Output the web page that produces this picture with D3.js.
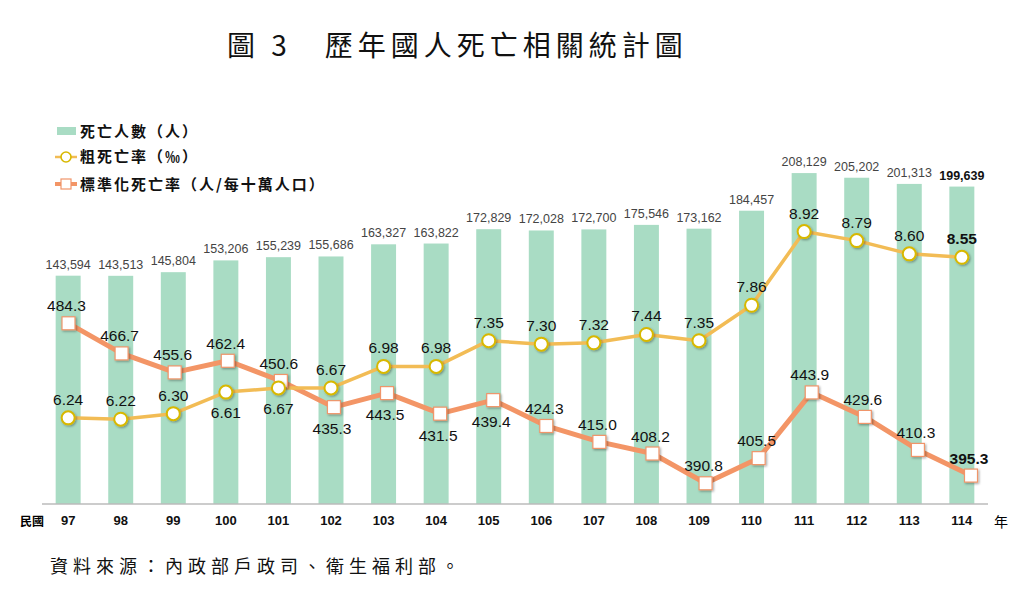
<!DOCTYPE html>
<html>
<head>
<meta charset="utf-8">
<script src="https://cdn.jsdelivr.net/npm/d3@7"></script>
<style>
  body { margin: 0; background: #fff; }
  svg { display: block; }
</style>
</head>
<body>
<svg id="chart" width="1024" height="591"></svg>
<script>
// data
const years = ["97", "98", "99", "100", "101", "102", "103", "104", "105",
  "106", "107", "108", "109", "110", "111", "112", "113", "114"];
const deaths = [143594, 143513, 145804, 153206, 155239, 155686, 163327, 163822,
  172829, 172028, 172700, 175546, 173162, 184457, 208129, 205202, 201313, 199639];
const crudeRate = [6.24, 6.22, 6.30, 6.61, 6.67, 6.67, 6.98, 6.98, 7.35, 7.30,
  7.32, 7.44, 7.35, 7.86, 8.92, 8.79, 8.60, 8.55];
const stdRate = [484.3, 466.7, 455.6, 462.4, 450.6, 435.3, 443.5, 431.5, 439.4,
  424.3, 415.0, 408.2, 390.8, 405.5, 443.9, 429.6, 410.3, 395.3];
// which labels sit under their marker
const crudeBelow = ["100", "101"];
const stdBelow = ["102", "103", "104", "105"];

const svg = d3.select("#chart");
const baseY = 504, topY = 106.5;
const sans = "Arial, 'Liberation Sans', sans-serif";
const cjk = "'Noto Sans CJK TC', sans-serif";

const defs = svg.append("defs");
const shadow = defs.append("filter").attr("id", "shadow")
  .attr("x", "-50%").attr("y", "-50%").attr("width", "200%").attr("height", "200%");
shadow.append("feDropShadow").attr("dx", 1.2).attr("dy", 1.2)
  .attr("stdDeviation", 1).attr("flood-color", "#000").attr("flood-opacity", 0.35);

// scales
const x = d3.scaleBand().domain(years).range([42, 988]).paddingInner(0.525).paddingOuter(0.26);
const xStd = d3.scalePoint().domain(years).range([68.5, 971]);
const yBar = d3.scaleLinear().domain([0, 250000]).range([baseY, topY]);
const yCrude = d3.scaleLinear().domain([5, 10.72]).range([baseY, topY]);
const yStd = d3.scaleLinear().domain([378.7, 611]).range([baseY, topY]);
const cx = (d) => x(d) + x.bandwidth() / 2;

// title
svg.append("text")
  .attr("x", 227).attr("y", 56)
  .attr("font-family", cjk).attr("font-size", 28)
  .attr("letter-spacing", 5)
  .attr("fill", "#111")
  .text("圖 3　歷年國人死亡相關統計圖");

// bars
svg.append("g").selectAll("rect")
  .data(years)
  .join("rect")
  .attr("x", (d) => x(d))
  .attr("width", x.bandwidth())
  .attr("y", (d, i) => yBar(deaths[i]))
  .attr("height", (d, i) => baseY - yBar(deaths[i]))
  .attr("fill", "#a9dcc4");

svg.append("g").selectAll("text")
  .data(years)
  .join("text")
  .attr("x", cx)
  .attr("y", (d, i) => yBar(deaths[i]) - 7)
  .attr("text-anchor", "middle")
  .attr("font-family", sans)
  .attr("font-size", 12.5)
  .attr("font-weight", (d, i) => (i === years.length - 1 ? "bold" : "normal"))
  .attr("fill", (d, i) => (i === years.length - 1 ? "#111" : "#444"))
  .text((d, i) => d3.format(",")(deaths[i]));

// axis
const axis = svg.append("g")
  .attr("transform", `translate(0,${baseY})`)
  .call(d3.axisBottom(x).tickSize(0).tickPadding(12));
axis.select(".domain").attr("stroke", "#bbb").attr("stroke-width", 1.5)
  .attr("d", `M${x.range()[0]},0H${x.range()[1]}`);
axis.selectAll("text")
  .attr("font-family", sans).attr("font-size", 13)
  .attr("font-weight", "bold").attr("fill", "#111");
svg.append("text").attr("x", 20).attr("y", 526)
  .attr("font-family", cjk).attr("font-size", 12).attr("font-weight", "bold")
  .text("民國");
svg.append("text").attr("x", 994).attr("y", 527)
  .attr("font-family", cjk).attr("font-size", 14)
  .text("年");

// standardized death rate line
svg.append("path")
  .datum(years)
  .attr("fill", "none")
  .attr("stroke", "#f39566")
  .attr("stroke-width", 5)
  .attr("stroke-linejoin", "round")
  .attr("d", d3.line().x((d) => xStd(d)).y((d, i) => yStd(stdRate[i])));

// crude death rate line
svg.append("path")
  .datum(years)
  .attr("fill", "none")
  .attr("stroke", "#f2bc55")
  .attr("stroke-width", 3.5)
  .attr("stroke-linejoin", "round")
  .attr("d", d3.line().x(cx).y((d, i) => yCrude(crudeRate[i])));

svg.append("g").selectAll("rect")
  .data(years)
  .join("rect")
  .attr("x", (d) => xStd(d) - 6.5)
  .attr("y", (d, i) => yStd(stdRate[i]) - 6.5)
  .attr("width", 13).attr("height", 13)
  .attr("fill", "#fff")
  .attr("stroke", "#f0956a")
  .attr("stroke-width", 1.2)
  .attr("filter", "url(#shadow)");

svg.append("g").selectAll("circle")
  .data(years)
  .join("circle")
  .attr("cx", cx)
  .attr("cy", (d, i) => yCrude(crudeRate[i]))
  .attr("r", 6.5)
  .attr("fill", "#fff")
  .attr("stroke", "#d8b800")
  .attr("stroke-width", 2)
  .attr("filter", "url(#shadow)");

// data labels
const last = years.length - 1;
svg.append("g").selectAll("text")
  .data(years)
  .join("text")
  .attr("x", cx)
  .attr("y", (d, i) => yCrude(crudeRate[i]) + (crudeBelow.includes(d) ? 26 : -13))
  .attr("text-anchor", "middle")
  .attr("font-family", sans).attr("font-size", 15.5)
  .attr("font-weight", (d, i) => (i === last ? "bold" : "normal"))
  .attr("fill", "#111")
  .text((d, i) => crudeRate[i].toFixed(2));

svg.append("g").selectAll("text")
  .data(years)
  .join("text")
  .attr("x", (d) => xStd(d) - 2)
  .attr("y", (d, i) => yStd(stdRate[i]) + (stdBelow.includes(d) ? 27 : -12))
  .attr("text-anchor", "middle")
  .attr("font-family", sans).attr("font-size", 15.5)
  .attr("font-weight", (d, i) => (i === last ? "bold" : "normal"))
  .attr("fill", "#111")
  .text((d, i) => stdRate[i].toFixed(1));

// legend
const legend = svg.append("g").attr("font-family", cjk)
  .attr("font-size", 15).attr("font-weight", "bold").attr("fill", "#111")
  .attr("letter-spacing", 2);
legend.append("rect").attr("x", 57).attr("y", 127).attr("width", 19).attr("height", 8)
  .attr("fill", "#a9dcc4");
legend.append("text").attr("x", 80).attr("y", 137).text("死亡人數（人）");

legend.append("line").attr("x1", 55).attr("x2", 77).attr("y1", 157).attr("y2", 157)
  .attr("stroke", "#f2bc55").attr("stroke-width", 2.5);
legend.append("circle").attr("cx", 66).attr("cy", 157).attr("r", 5)
  .attr("fill", "#fff").attr("stroke", "#d8b800").attr("stroke-width", 1.6);
legend.append("text").attr("x", 80).attr("y", 162).text("粗死亡率（‰）");

legend.append("line").attr("x1", 55).attr("x2", 77).attr("y1", 184).attr("y2", 184)
  .attr("stroke", "#f39566").attr("stroke-width", 4);
legend.append("rect").attr("x", 61).attr("y", 179).attr("width", 10).attr("height", 10)
  .attr("fill", "#fff").attr("stroke", "#f0956a").attr("stroke-width", 1.2);
legend.append("text").attr("x", 80).attr("y", 190).text("標準化死亡率（人/每十萬人口）");

// source note
svg.append("text")
  .attr("x", 50).attr("y", 573)
  .attr("font-family", cjk).attr("font-size", 18)
  .attr("letter-spacing", 5)
  .attr("fill", "#111")
  .text("資料來源：內政部戶政司、衛生福利部。");
</script>
</body>
</html>
